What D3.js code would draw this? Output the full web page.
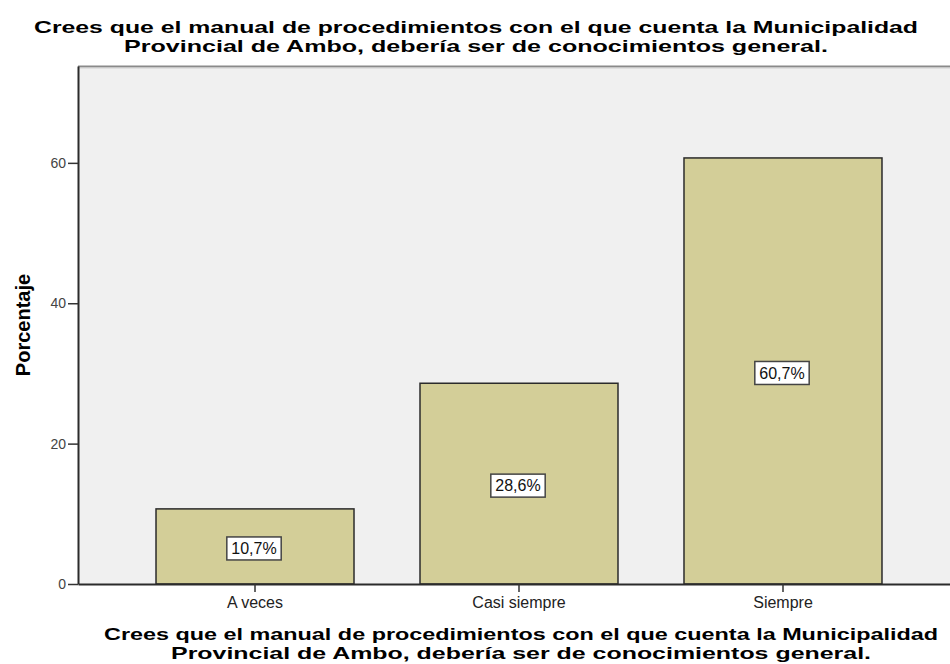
<!DOCTYPE html>
<html>
<head>
<meta charset="utf-8">
<script src="https://cdn.jsdelivr.net/npm/d3@7"></script>
<style>
	body { margin: 0; background: #fff; }
	text { font-family: Arial, "Liberation Sans", sans-serif; }
</style>
</head>
<body>
<svg id="chart" width="950" height="664"></svg>
<script>
const categories = ['A veces', 'Casi siempre', 'Siempre']
const percents = [10.7, 28.6, 60.7]
const valueLabels = ['10,7%', '28,6%', '60,7%']
const yTicks = [0, 20, 40, 60]
const titleLines = [
	'Crees que el manual de procedimientos con el que cuenta la Municipalidad',
	'Provincial de Ambo, debería ser de conocimientos general.'
]
const yLabel = 'Porcentaje'
const yMax = 73.8

const data = categories.map((c, i) => ({ cat: c, value: percents[i], label: valueLabels[i] }))

const svg = d3.select('#chart')

const plot = { left: 78, right: 960, top: 66, bottom: 584 }

const xScale = d3.scaleBand()
	.domain(categories)
	.range([plot.left, plot.right])
	.paddingInner(0.25)
	.paddingOuter(0.2955)

const yScale = d3.scaleLinear()
	.domain([0, yMax])
	.range([plot.bottom, plot.top])

// plot background + frame
svg.append('rect')
	.attr('x', plot.left)
	.attr('y', plot.top)
	.attr('width', plot.right - plot.left)
	.attr('height', plot.bottom - plot.top)
	.attr('fill', '#f0f0f0')

svg.append('line')
	.attr('x1', plot.left).attr('x2', plot.right)
	.attr('y1', plot.top + 0.5).attr('y2', plot.top + 0.5)
	.attr('stroke', '#8a8a8a')
	.attr('stroke-width', 2)

svg.append('line')
	.attr('x1', plot.left).attr('x2', plot.right)
	.attr('y1', plot.top + 2).attr('y2', plot.top + 2)
	.attr('stroke', '#d0d0d0')
	.attr('stroke-width', 1)

// bars
svg.append('g')
	.selectAll('rect')
	.data(data)
	.enter().append('rect')
	.attr('x', d => xScale(d.cat))
	.attr('y', d => yScale(d.value))
	.attr('width', xScale.bandwidth())
	.attr('height', d => yScale(0) - yScale(d.value))
	.attr('fill', '#d3ce98')
	.attr('stroke', '#2b2b2b')
	.attr('stroke-width', 1.5)

// axes
const yAxis = d3.axisLeft(yScale)
	.tickValues(yTicks)
	.tickSize(10)
	.tickPadding(2)
	.tickSizeOuter(0)

const yAxisG = svg.append('g')
	.attr('transform', `translate(${plot.left}, 0)`)
	.call(yAxis)

yAxisG.select('.domain')
	.attr('stroke', '#2b2b2b')
	.attr('stroke-width', 2)

yAxisG.selectAll('.tick line')
	.attr('stroke', '#333')
	.attr('stroke-width', 1.5)

yAxisG.selectAll('.tick text')
	.attr('fill', '#444')
	.style('font-size', '14px')
	.style('font-family', 'Arial, "Liberation Sans", sans-serif')

const xAxis = d3.axisBottom(xScale)
	.tickSize(8)
	.tickPadding(5)
	.tickSizeOuter(0)

const xAxisG = svg.append('g')
	.attr('transform', `translate(0, ${plot.bottom})`)
	.call(xAxis)

xAxisG.select('.domain')
	.attr('stroke', '#2b2b2b')
	.attr('stroke-width', 2)

xAxisG.selectAll('.tick line')
	.attr('stroke', '#333')
	.attr('stroke-width', 1.5)

xAxisG.selectAll('.tick text')
	.attr('fill', '#222')
	.style('font-size', '16px')
	.style('font-family', 'Arial, "Liberation Sans", sans-serif')

// value labels
const labels = svg.append('g')
	.selectAll('g')
	.data(data)
	.enter().append('g')
	.attr('transform', d => `translate(${xScale(d.cat) + xScale.bandwidth() / 2 - 1}, ${(yScale(0) + yScale(d.value)) / 2 + 2})`)

labels.append('rect')
	.attr('fill', '#fff')
	.attr('stroke', '#444')
	.attr('stroke-width', 1.5)

labels.append('text')
	.text(d => d.label)
	.attr('text-anchor', 'middle')
	.attr('dy', '0.36em')
	.style('font-size', '16px')
	.attr('fill', '#111')

labels.each(function() {
	const g = d3.select(this)
	const w = g.select('text').node().getComputedTextLength() + 9
	g.select('rect')
		.attr('x', -w / 2)
		.attr('y', -11.5)
		.attr('width', w)
		.attr('height', 23)
})

// titles
svg.append('g')
	.selectAll('text')
	.data(titleLines)
	.enter().append('text')
	.text(d => d)
	.attr('x', 476)
	.attr('y', (d, i) => 33 + i * 19)
	.attr('text-anchor', 'middle')
	.attr('textLength', (d, i) => i == 0 ? 884 : 704)
	.attr('lengthAdjust', 'spacingAndGlyphs')
	.style('font-size', '17px')
	.style('font-weight', 'bold')
	.attr('fill', '#000')

svg.append('g')
	.selectAll('text')
	.data(titleLines)
	.enter().append('text')
	.text(d => d)
	.attr('x', (plot.left + plot.right) / 2 + 2)
	.attr('y', (d, i) => 640 + i * 19)
	.attr('text-anchor', 'middle')
	.attr('textLength', (d, i) => i == 0 ? 834 : 700)
	.attr('lengthAdjust', 'spacingAndGlyphs')
	.style('font-size', '17px')
	.style('font-weight', 'bold')
	.attr('fill', '#000')

svg.append('text')
	.text(yLabel)
	.attr('transform', `translate(30, ${(plot.top + plot.bottom) / 2}) rotate(-90)`)
	.attr('text-anchor', 'middle')
	.style('font-size', '20px')
	.style('font-weight', 'bold')
	.attr('fill', '#000')
</script>
</body>
</html>
